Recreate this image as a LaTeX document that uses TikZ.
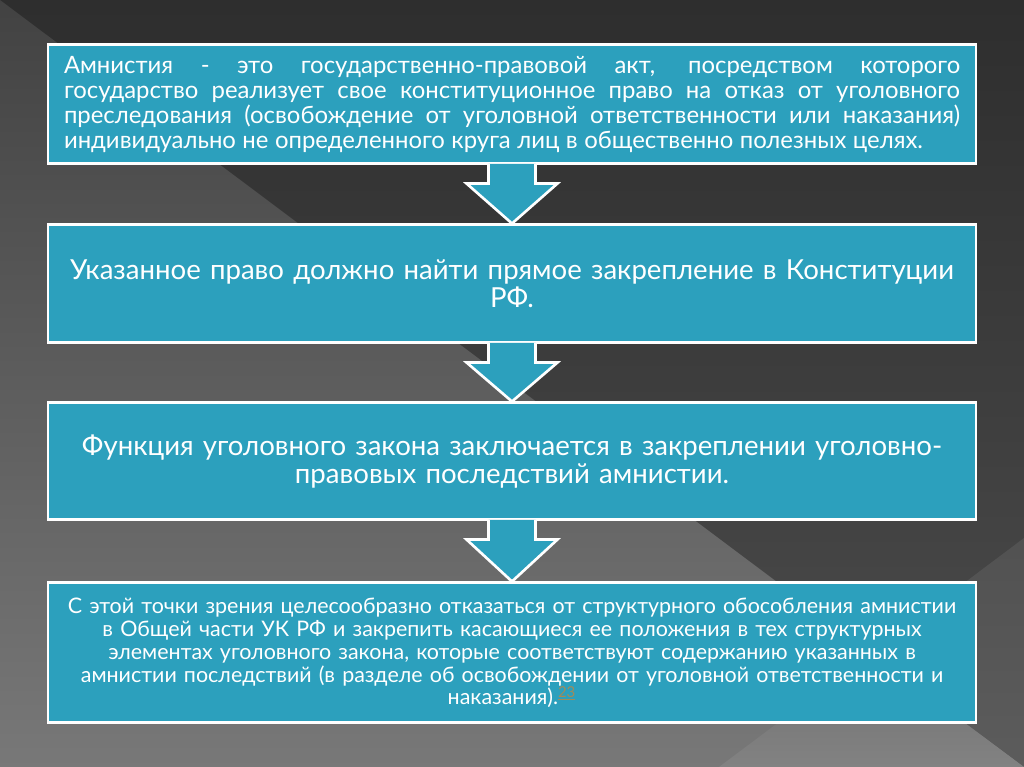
\documentclass[tikz,border=0pt]{standalone}
\usepackage{fontspec}
\setmainfont{Lato}
\usetikzlibrary{calc}
\definecolor{boxteal}{RGB}{44,160,189}
\definecolor{notelink}{RGB}{160,140,90}
\tikzset{
      stepbox/.style={draw=white, fill=boxteal, line width=1.7pt, text=white,
            minimum width=18.56cm, align=center, inner sep=0pt},
      blockarrow/.style={fill=boxteal, draw=white, line width=1.5pt,
            to path={($(\tikztostart.south)+(-0.47,0.03)$) -- ++(0,-0.39) -- ++(-0.44,0)
            -- (\tikztotarget.north) -- ($(\tikztostart.south)+(0.91,-0.36)$)
            -- ++(-0.44,0) -- ++(0,0.39)}},
}

\begin{document}
\begin{tikzpicture}
        \useasboundingbox (0,0) rectangle (20.48,15.34);

        % Draw the background
        \shade[top color=black!82, bottom color=black!70] (0,0) rectangle (20.48,15.34);
        \shade[top color=black!74, bottom color=black!53] (0,15.34) -- (0,0) -- (20.48,0) -- cycle;
        \shade[top color=black!68, bottom color=black!64] (17.42,2.28) -- (20.48,4.58) -- (20.48,0) -- cycle;
        \shade[top color=black!56, bottom color=black!49] (17.42,2.28) -- (20.48,0) -- (14.38,0) -- cycle;

        % Draw the boxes
        \node[stepbox, minimum height=2.38cm, text width=17.92cm, font=\fontsize{13.6}{14.2}\selectfont] (amnistiya) at (10.24,13.25)
            {\spaceskip=0.27em plus 10em minus 0.05em\relax
             \makebox[17.92cm][s]{Амнистия - это государственно-правовой акт, посредством которого}\\
             \makebox[17.92cm][s]{государство реализует свое конституционное право на отказ от уголовного}\\
             \makebox[17.92cm][s]{преследования (освобождение от уголовной ответственности или наказания)}\\
             \makebox[17.92cm][l]{индивидуально не определенного круга лиц в общественно полезных целях.}};
        \node[stepbox, minimum height=2.36cm, text width=18.2cm, font=\fontsize{15.7}{16}\selectfont] (pravo) at (10.24,9.66)
            {Указанное право должно найти прямое закрепление в Конституции\\ РФ.};
        \node[stepbox, minimum height=2.34cm, text width=18.2cm, font=\fontsize{15.7}{16}\selectfont] (funkciya) at (10.24,6.11)
            {Функция уголовного закона заключается в закреплении уголовно-\\правовых последствий амнистии.};
        \node[stepbox, minimum height=2.80cm, text width=18.3cm, font=\fontsize{12.2}{13}\selectfont] (vyvod) at (10.24,2.28)
            {С этой точки зрения целесообразно отказаться от структурного обособления амнистии\\
             в Общей части УК РФ и закрепить касающиеся ее положения в тех структурных\\
             элементах уголовного закона, которые соответствуют содержанию указанных в\\
             амнистии последствий (в разделе об освобождении от уголовной ответственности и\\
             наказания).\textsuperscript{\color{notelink}\underline{23}}};

        % Draw the arrows
        \draw[blockarrow] (amnistiya) to (pravo);
        \draw[blockarrow] (pravo) to (funkciya);
        \draw[blockarrow] (funkciya) to (vyvod);

\end{tikzpicture}
\end{document}
